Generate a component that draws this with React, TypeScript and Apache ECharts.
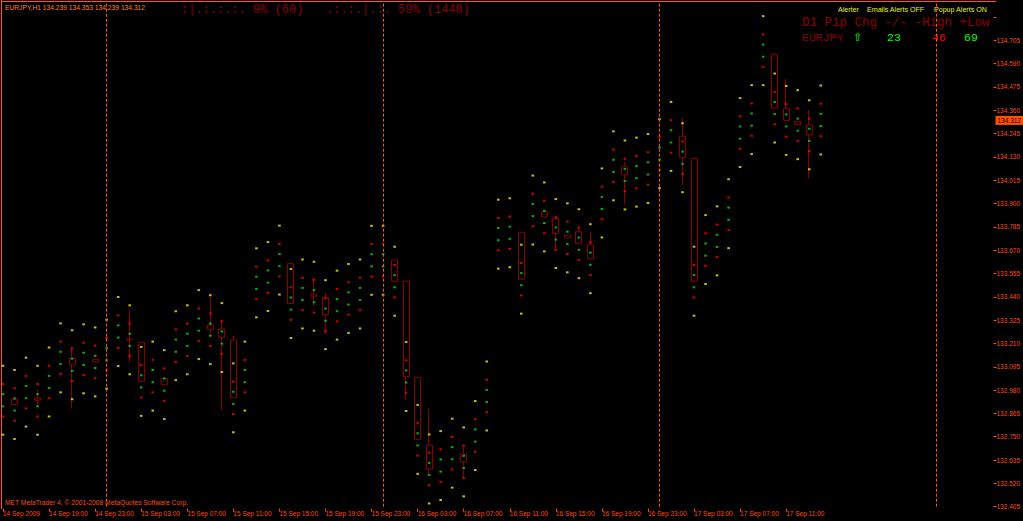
import React, { useEffect, useRef } from 'react';
import * as echarts from 'echarts';

// ---------- data ----------
const symbolName = 'EURJPY,H1';
const headerOHLC = ['134.239', '134.353', '134.239', '134.312'];
const progressA = ':|.:.:.:. 9% (60)';
const progressB = '.:.:.|.:. 59% (1440)';
const alertTexts = ['Alerter', 'Emails Alerts OFF', 'Popup Alerts ON'];
const pipHeader = 'D1 Pip Chg -/- -High +Low';
const pipRow = ['EURJPY', '⇧', '23', '46', '69'];
const copyright = 'MET MetaTrader 4, © 2001-2008 MetaQuotes Software Corp.';

// x tick labels, one every 4 hourly bars starting at bar 0
const timeLabels = [
  '14 Sep 2009', '14 Sep 19:00', '14 Sep 23:00', '15 Sep 03:00', '15 Sep 07:00', '15 Sep 11:00',
  '15 Sep 15:00', '15 Sep 19:00', '15 Sep 23:00', '16 Sep 03:00', '16 Sep 07:00', '16 Sep 11:00',
  '16 Sep 15:00', '16 Sep 19:00', '16 Sep 23:00', '17 Sep 03:00', '17 Sep 07:00', '17 Sep 11:00',
];
const barsPerLabel = 4;
const axisSlots = 87; // hourly slots shown, including the empty shift area on the right
const daySeparators = [9, 33, 57, 81];
const priceMin = 132.405;
const priceMax = 134.8988;
const priceStep = 0.115;
const currentPrice = 134.312;

const closes = [
  132.930, 132.909, 132.970, 132.930, 133.020, 133.139, 133.105, 133.134, 133.119, 133.157, 133.269, 133.228,
  133.023, 133.049, 133.007, 133.199, 133.228, 133.303, 133.278, 133.239, 132.942, 133.049, 133.509, 133.540,
  133.621, 133.407, 133.454, 133.443, 133.352, 133.399, 133.432, 133.454, 133.620, 133.620, 133.517, 133.047,
  132.737, 132.591, 132.608, 132.669, 132.626, 132.756, 132.951, 133.749, 133.756, 133.527, 133.868, 133.834,
  133.752, 133.731, 133.702, 133.628, 133.903, 134.086, 134.041, 134.055, 134.073, 134.146, 134.231, 134.126,
  133.517, 133.673, 133.716, 133.850, 134.250, 134.314, 134.654, 134.371, 134.310, 134.289, 134.239, 134.312,
];
// only the bearish candles are visible (bullish ones are drawn black on black)
const candleOpen = [
  null, 132.935, null, 132.941, null, null, 133.137, null, 133.132, null, null, 133.230,
  133.216, null, 133.038, null, null, null, 133.301, 133.280, 133.227, null, null, null,
  null, 133.605, null, 133.453, 133.438, null, null, null, null, null, 133.622, 133.517,
  133.043, 132.709, null, null, 132.664, null, null, null, null, 133.758, null, 133.860,
  133.827, 133.745, 133.761, 133.696, null, null, 134.084, null, null, null, null, 134.232,
  134.123, null, null, null, null, null, null, 134.636, 134.370, 134.306, 134.287, null,
];
const candleHigh = [
  null, 132.935, null, 132.981, null, null, 133.194, null, 133.132, null, null, 133.375,
  133.216, null, 133.038, null, null, null, 133.441, 133.326, 133.247, null, null, null,
  null, 133.605, null, 133.531, 133.458, null, null, null, null, null, 133.622, 133.517,
  133.043, 132.887, null, null, 132.706, null, null, null, null, 133.758, null, 133.860,
  133.835, 133.745, 133.786, 133.761, null, null, 134.106, null, null, null, null, 134.320,
  134.123, null, null, null, null, null, null, 134.636, 134.514, 134.306, 134.361, null,
];
const candleLow = [
  null, 132.909, null, 132.902, null, null, 132.890, null, 133.119, null, null, 133.120,
  133.023, null, 133.007, null, null, null, 133.252, 132.882, 132.942, null, null, null,
  null, 133.407, null, 133.395, 133.257, null, null, null, null, null, 133.517, 132.931,
  132.737, 132.562, null, null, 132.545, null, null, null, null, 133.527, null, 133.834,
  133.671, 133.731, 133.702, 133.628, null, null, 133.898, null, null, null, null, 133.992,
  133.517, null, null, null, null, null, null, 134.371, 134.310, 134.289, 134.025, null,
];

// indicator dots
const yellowUpper = [
  133.100, 133.079, 133.140, 133.100, 133.190, 133.309, 133.275, 133.304, 133.289, 133.327, 133.439, 133.398,
  133.193, 133.219, 133.177, 133.369, 133.398, 133.473, 133.448, 133.409, 133.112, 133.219, 133.679, 133.710,
  133.791, 133.577, 133.624, 133.613, 133.522, 133.569, 133.602, 133.624, 133.790, 133.790, 133.687, 133.217,
  132.907, 132.761, 132.778, 132.839, 132.796, 132.926, 133.121, 133.919, 133.926, 133.697, 134.038, 134.004,
  133.922, 133.901, 133.872, 133.798, 134.073, 134.256, 134.211, 134.225, 134.243, 134.316, 134.401, 134.296,
  133.687, 133.843, 133.886, 134.020, 134.420, 134.484, 134.824, 134.541, 134.480, 134.459, 134.409, 134.482,
];
const redUpper = [
  133.010, 132.989, 133.050, 133.010, 133.100, 133.219, 133.185, 133.214, 133.199, 133.237, 133.349, 133.308,
  133.103, 133.129, 133.087, 133.279, 133.308, 133.383, 133.358, 133.319, 133.022, 133.129, 133.589, 133.620,
  133.701, 133.487, 133.534, 133.523, 133.432, 133.479, 133.512, 133.534, 133.700, 133.700, 133.597, 133.127,
  132.817, 132.671, 132.688, 132.749, 132.706, 132.836, 133.031, 133.829, 133.836, 133.607, 133.948, 133.914,
  133.832, 133.811, 133.782, 133.708, 133.983, 134.166, 134.121, 134.135, 134.153, 134.226, 134.311, 134.206,
  133.597, 133.753, 133.796, 133.930, 134.330, 134.394, 134.734, 134.451, 134.390, 134.369, 134.319, 134.392,
];
const greenUpper = [
  132.960, 132.939, 133.000, 132.960, 133.050, 133.169, 133.135, 133.164, 133.149, 133.187, 133.299, 133.258,
  133.053, 133.079, 133.037, 133.229, 133.258, 133.333, 133.308, 133.269, 132.972, 133.079, 133.539, 133.570,
  133.651, 133.437, 133.484, 133.473, 133.382, 133.429, 133.462, 133.484, 133.650, 133.650, 133.547, 133.077,
  132.767, 132.621, 132.638, 132.699, 132.656, 132.786, 132.981, 133.779, 133.786, 133.557, 133.898, 133.864,
  133.782, 133.761, 133.732, 133.658, 133.933, 134.116, 134.071, 134.085, 134.103, 134.176, 134.261, 134.156,
  133.547, 133.703, 133.746, 133.880, 134.280, 134.344, 134.684, 134.401, 134.340, 134.319, 134.269, 134.342,
];
const greenLower = [
  132.900, 132.879, 132.940, 132.900, 132.990, 133.109, 133.075, 133.104, 133.089, 133.127, 133.239, 133.198,
  132.993, 133.019, 132.977, 133.169, 133.198, 133.273, 133.248, 133.209, 132.912, 133.019, 133.479, 133.510,
  133.591, 133.377, 133.424, 133.413, 133.322, 133.369, 133.402, 133.424, 133.590, 133.590, 133.487, 133.017,
  132.707, 132.561, 132.578, 132.639, 132.596, 132.726, 132.921, 133.719, 133.726, 133.497, 133.838, 133.804,
  133.722, 133.701, 133.672, 133.598, 133.873, 134.056, 134.011, 134.025, 134.043, 134.116, 134.201, 134.096,
  133.487, 133.643, 133.686, 133.820, 134.220, 134.284, 134.624, 134.341, 134.280, 134.259, 134.209, 134.282,
];
const redLower = [
  132.850, 132.829, 132.890, 132.850, 132.940, 133.059, 133.025, 133.054, 133.039, 133.077, 133.189, 133.148,
  132.943, 132.969, 132.927, 133.119, 133.148, 133.223, 133.198, 133.159, 132.862, 132.969, 133.429, 133.460,
  133.541, 133.327, 133.374, 133.363, 133.272, 133.319, 133.352, 133.374, 133.540, 133.540, 133.437, 132.967,
  132.657, 132.511, 132.528, 132.589, 132.546, 132.676, 132.871, 133.669, 133.676, 133.447, 133.788, 133.754,
  133.672, 133.651, 133.622, 133.548, 133.823, 134.006, 133.961, 133.975, 133.993, 134.066, 134.151, 134.046,
  133.437, 133.593, 133.636, 133.770, 134.170, 134.234, 134.574, 134.291, 134.230, 134.209, 134.159, 134.232,
];
const yellowLower = [
  132.760, 132.739, 132.800, 132.760, 132.850, 132.969, 132.935, 132.964, 132.949, 132.987, 133.099, 133.058,
  132.853, 132.879, 132.837, 133.029, 133.058, 133.133, 133.108, 133.069, 132.772, 132.879, 133.339, 133.370,
  133.451, 133.237, 133.284, 133.273, 133.182, 133.229, 133.262, 133.284, 133.450, 133.450, 133.347, 132.877,
  132.567, 132.421, 132.438, 132.499, 132.456, 132.586, 132.781, 133.579, 133.586, 133.357, 133.698, 133.664,
  133.582, 133.561, 133.532, 133.458, 133.733, 133.916, 133.871, 133.885, 133.903, 133.976, 134.061, 133.956,
  133.347, 133.503, 133.546, 133.680, 134.080, 134.144, 134.484, 134.201, 134.140, 134.119, 134.069, 134.142,
];

// ---------- styling ----------
const AXIS = '#ff4a00';
const FRAME = '#ff5a00';
const HEADER = '#ff8000';
const CANDLE = '#8a0000';
const DARKRED = '#8b0000';
const YELLOW = '#f2f000';
const RED = '#ff0000';
const GREEN = '#10d010';
const SANS = '"Liberation Sans", Arial, sans-serif';
const MONO = '"Liberation Mono", "DejaVu Sans Mono", monospace';

const GRID_LEFT = 1.9;
const BAR_STEP = 11.54;
const GRID_TOP = 1;
const GRID_BOTTOM_Y = 506.7;

export default function App() {
  const ref = useRef<HTMLDivElement>(null);

  useEffect(() => {
    document.body.style.margin = '0';
    document.body.style.background = '#000';
    document.body.style.overflow = 'hidden';
    const el = ref.current;
    if (!el) return;
    const chart = echarts.init(el, undefined, { renderer: 'svg' });

    const categories = Array.from({ length: axisSlots }, (_, i) => String(i));
    const showTick = (index: number) =>
      index % barsPerLabel === 0 && index / barsPerLabel < timeLabels.length;

    const candleData = closes.map((c, i) =>
      candleOpen[i] == null ? '-' : [candleOpen[i], c, candleLow[i], candleHigh[i]]
    );

    const dotSeries = (name: string, data: number[], color: string) => ({
      name,
      type: 'scatter',
      data,
      symbol: 'rect',
      symbolSize: [2.6, 2],
      itemStyle: { color },
      silent: true,
      clip: false,
      z: 3,
    });

    const gridRight = 1023 - (GRID_LEFT + (axisSlots - 1) * BAR_STEP);

    const textEl = (text: string, x: number, y: number, fill: string, fontSize: number, fontFamily: string) => ({
      type: 'text',
      x,
      y,
      silent: true,
      style: { text, fill, fontSize, fontFamily, verticalAlign: 'middle', align: 'left' },
    });

    const option: any = {
      animation: false,
      backgroundColor: '#000',
      grid: {
        left: GRID_LEFT,
        right: gridRight,
        top: GRID_TOP,
        bottom: 521 - GRID_BOTTOM_Y,
        containLabel: false,
      },
      xAxis: {
        type: 'category',
        data: categories,
        boundaryGap: false,
        offset: 2,
        axisLine: { show: false },
        axisTick: { show: true, length: 3, interval: (i: number) => showTick(i), lineStyle: { color: AXIS, width: 1 } },
        axisLabel: {
          interval: (i: number) => showTick(i),
          formatter: (v: string) => {
            const i = Number(v);
            return showTick(i) ? timeLabels[i / barsPerLabel] : '';
          },
          align: 'left',
          color: AXIS,
          fontSize: 6.5,
          fontFamily: SANS,
          margin: 1,
        },
        splitLine: { show: false },
      },
      yAxis: {
        type: 'value',
        position: 'right',
        min: priceMin,
        max: priceMax,
        interval: priceStep,
        axisLine: { show: false },
        axisTick: { show: true, length: 3, lineStyle: { color: AXIS, width: 1 } },
        axisLabel: {
          formatter: (v: number) => (v > 134.75 ? '' : v.toFixed(3)),
          color: AXIS,
          fontSize: 6.5,
          fontFamily: SANS,
          margin: 3,
        },
        splitLine: { show: false },
      },
      series: [
        {
          name: 'EURJPY',
          type: 'candlestick',
          data: candleData,
          barWidth: 6.5,
          clip: false,
          silent: true,
          itemStyle: {
            color: '#000',
            color0: '#000',
            borderColor: '#000',
            borderColor0: CANDLE,
            borderWidth: 1,
          },
          markLine: {
            symbol: 'none',
            silent: true,
            animation: false,
            data: daySeparators.map((i) => ({
              xAxis: i,
              lineStyle: { color: FRAME, type: [3, 2], width: 1 },
              label: { show: false },
            })),
          },
        },
        {
          name: 'price',
          type: 'line',
          data: [],
          silent: true,
          markLine: {
            symbol: 'none',
            silent: true,
            animation: false,
            lineStyle: { color: 'rgba(0,0,0,0)', width: 1, type: 'solid' },
            label: {
              show: true,
              position: 'end',
              formatter: currentPrice.toFixed(3),
              color: '#1a0000',
              backgroundColor: '#ff5000',
              fontSize: 6.5,
              fontFamily: SANS,
              padding: [1, 4, 1, 2],
              distance: 2,
            },
            data: [{ yAxis: currentPrice }],
          },
        },
        dotSeries('yellowUpper', yellowUpper, YELLOW),
        dotSeries('redUpper', redUpper, RED),
        dotSeries('greenUpper', greenUpper, GREEN),
        dotSeries('greenLower', greenLower, GREEN),
        dotSeries('redLower', redLower, RED),
        dotSeries('yellowLower', yellowLower, YELLOW),
      ],
      graphic: [
        { type: 'line', silent: true, shape: { x1: 1.5, y1: 0, x2: 1.5, y2: 509 }, style: { stroke: FRAME, lineWidth: 1 } },
        { type: 'line', silent: true, shape: { x1: 1, y1: 1.5, x2: 995, y2: 1.5 }, style: { stroke: FRAME, lineWidth: 1 } },
        textEl(`${symbolName} ${headerOHLC.join(' ')}`, 5, 7, HEADER, 6.7, SANS),
        textEl(progressA, 181, 10, DARKRED, 12, MONO),
        textEl(progressB, 326, 10, DARKRED, 12, MONO),
        textEl(alertTexts[0], 838, 10, YELLOW, 7.1, SANS),
        textEl(alertTexts[1], 867, 10, YELLOW, 7.1, SANS),
        textEl(alertTexts[2], 934, 10, YELLOW, 7.1, SANS),
        textEl(pipHeader, 802, 23, DARKRED, 12.5, MONO),
        textEl(pipRow[0], 802, 37, DARKRED, 11.5, MONO),
        textEl(pipRow[1], 853, 37, '#00ff00', 11, '"DejaVu Sans", sans-serif'),
        textEl(pipRow[2], 887, 37, '#00ff00', 11.5, MONO),
        textEl(pipRow[3], 932, 37, '#ff0000', 11.5, MONO),
        textEl(pipRow[4], 964, 37, '#00ff00', 11.5, MONO),
        textEl(copyright, 5, 502.5, AXIS, 6.7, SANS),
      ],
    };

    chart.setOption(option);
    return () => chart.dispose();
  }, []);

  return <div ref={ref} style={{ width: 1023, height: 521, background: '#000' }} />;
}
